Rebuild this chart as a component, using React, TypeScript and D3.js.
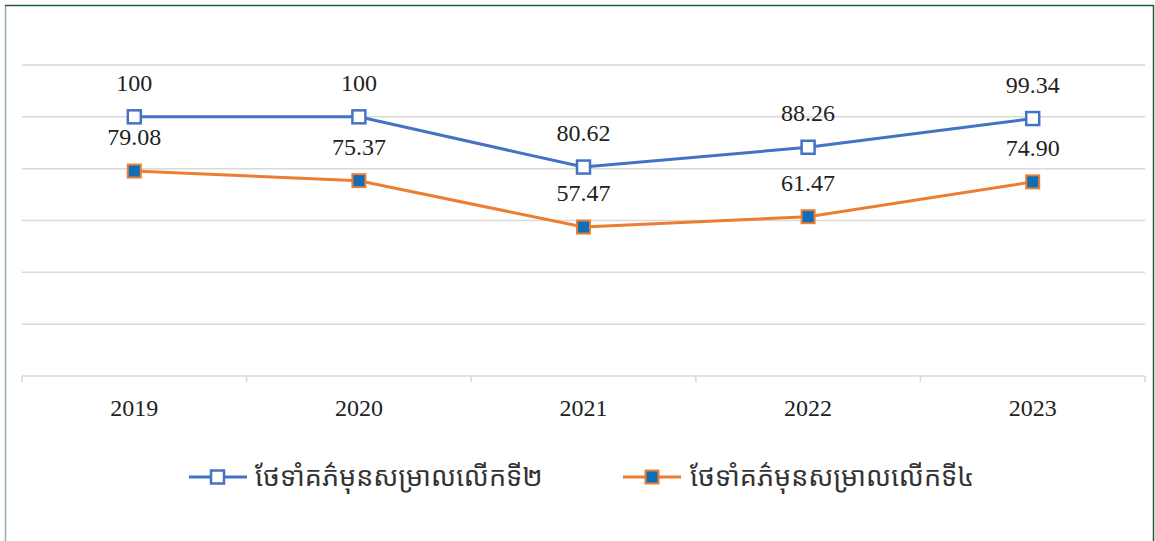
import React from "react";
import * as d3 from "d3";

const years = ["2019", "2020", "2021", "2022", "2023"];
const dose2 = [100, 100, 80.62, 88.26, 99.34];
const dose4 = [79.08, 75.37, 57.47, 61.47, 74.9];
const dose2Labels = ["100", "100", "80.62", "88.26", "99.34"];
const dose4Labels = ["79.08", "75.37", "57.47", "61.47", "74.90"];
const seriesNames = ["ថែទាំគភ៌មុនសម្រាលលើកទី២", "ថែទាំគភ៌មុនសម្រាលលើកទី៤"];
const yTicks = [0, 20, 40, 60, 80, 100, 120];

const W = 1155;
const H = 541;

export default function App() {
  const x = d3.scaleBand<string>().domain(years).range([22, 1145]);
  const y = d3.scaleLinear().domain([0, 120]).range([376, 65]);
  const cx = (d: string) => (x(d) as number) + x.bandwidth() / 2;
  const line = d3
    .line<number>()
    .x((_, i) => cx(years[i]))
    .y((v) => y(v));
  const serif = "'Liberation Serif', 'Times New Roman', serif";
  const khmer = "'Noto Sans Khmer', 'Khmer OS', 'Noto Sans', sans-serif";
  const blue = "#4472C4";
  const orange = "#ED7D31";
  const fill4 = "#0E6EB8";
  const tickXs = [...years.map((d) => x(d) as number), 1145];

  return (
    <div style={{ position: "absolute", left: 0, top: 0 }}>
      <svg width={W} height={H} style={{ display: "block", background: "#fff" }}>
        {/* frame */}
        <line x1={5.5} y1={5} x2={5.5} y2={H} stroke="#8FB3A9" strokeWidth={1.5} />
        <line x1={5} y1={5.5} x2={1153.5} y2={5.5} stroke="#1E5B45" strokeWidth={1.5} />
        <line x1={1153.5} y1={5} x2={1153.5} y2={H} stroke="#1E5B45" strokeWidth={1.5} />

        {/* gridlines */}
        {yTicks.slice(1).map((t) => (
          <line key={t} x1={22} x2={1145} y1={y(t)} y2={y(t)} stroke="#D9D9D9" strokeWidth={1.5} />
        ))}
        {/* axis */}
        <line x1={22} x2={1145} y1={y(0)} y2={y(0)} stroke="#D9D9D9" strokeWidth={1.5} />
        {tickXs.map((tx, i) => (
          <line key={i} x1={tx} x2={tx} y1={y(0)} y2={y(0) + 6} stroke="#D9D9D9" strokeWidth={1.5} />
        ))}
        {years.map((d) => (
          <text key={d} x={cx(d)} y={416} textAnchor="middle" fontFamily={serif} fontSize={24} fill="#222">
            {d}
          </text>
        ))}

        {/* series lines */}
        <path d={line(dose2) || ""} fill="none" stroke={blue} strokeWidth={3} />
        <path d={line(dose4) || ""} fill="none" stroke={orange} strokeWidth={3} />

        {dose2.map((v, i) => (
          <rect key={"b" + i} x={cx(years[i]) - 6.5} y={y(v) - 6.5} width={13} height={13} fill="#fff" stroke={blue} strokeWidth={2.5} />
        ))}
        {dose4.map((v, i) => (
          <rect key={"o" + i} x={cx(years[i]) - 6.5} y={y(v) - 6.5} width={13} height={13} fill={fill4} stroke={orange} strokeWidth={2} />
        ))}

        {dose2.map((v, i) => (
          <text key={"bl" + i} x={cx(years[i])} y={y(v) - 26} textAnchor="middle" fontFamily={serif} fontSize={24} fill="#222">
            {dose2Labels[i]}
          </text>
        ))}
        {dose4.map((v, i) => (
          <text key={"ol" + i} x={cx(years[i])} y={y(v) - 26} textAnchor="middle" fontFamily={serif} fontSize={24} fill="#222">
            {dose4Labels[i]}
          </text>
        ))}

        {/* legend */}
        <g>
          <line x1={189} x2={247} y1={477} y2={477} stroke={blue} strokeWidth={3} />
          <rect x={211} y={470.5} width={13} height={13} fill="#fff" stroke={blue} strokeWidth={2.5} />
          <text x={255} y={486} fontFamily={khmer} fontSize={27} fill="#333">{seriesNames[0]}</text>
        </g>
        <g>
          <line x1={623} x2={681} y1={477} y2={477} stroke={orange} strokeWidth={3} />
          <rect x={645.5} y={470.5} width={13} height={13} fill={fill4} stroke={orange} strokeWidth={2} />
          <text x={690} y={486} fontFamily={khmer} fontSize={27} fill="#333">{seriesNames[1]}</text>
        </g>
      </svg>
    </div>
  );
}
